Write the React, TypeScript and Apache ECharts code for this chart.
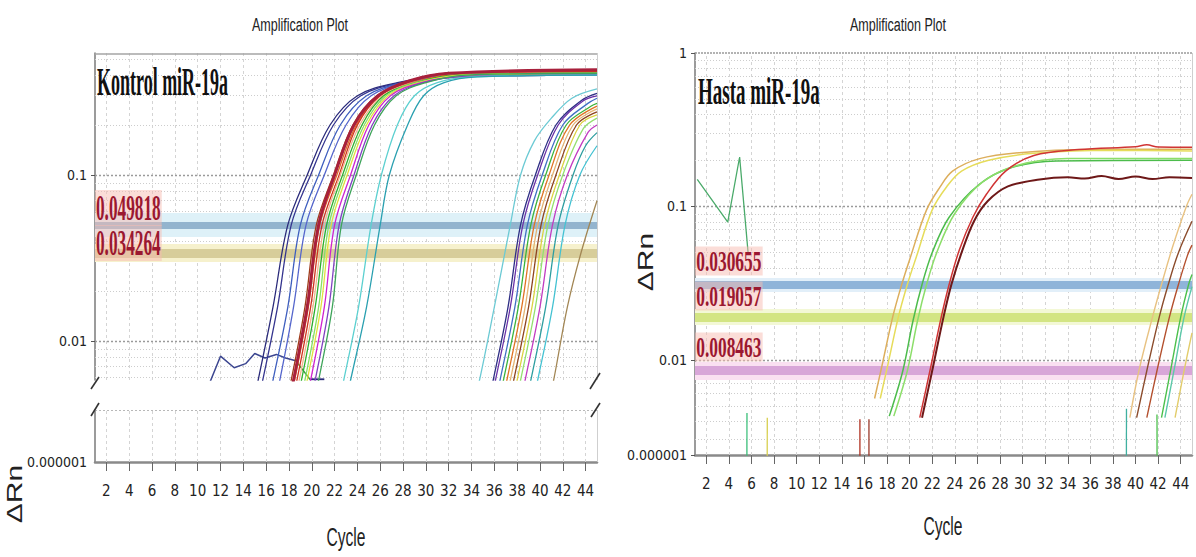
import React, { useEffect, useRef } from "react";
import * as echarts from "echarts";

// ---------------- data ----------------
const cycleTicks = [2, 4, 6, 8, 10, 12, 14, 16, 18, 20, 22, 24, 26, 28, 30, 32, 34, 36, 38, 40, 42, 44];
const cycleMin = 1;
const cycleMax = 45;

const kontrolTickValues = [0.01, 0.1];
const kontrolTickLabels = ["0.01", "0.1"];
const kontrolLowerLabel = "0.000001";
const kontrolMinorValues = [0.006, 0.007, 0.008, 0.009, 0.02, 0.03, 0.04, 0.05, 0.06, 0.07, 0.08, 0.09, 0.2, 0.3, 0.4, 0.5];
const kontrolVisibleMin = 0.00582;
const kontrolVisibleMax = 0.543;

const hastaTickValues = [0.01, 0.1, 1];
const hastaTickLabels = ["0.01", "0.1", "1"];
const hastaFloorLabel = "0.000001";
const hastaMinorValues = [0.003, 0.004, 0.005, 0.006, 0.007, 0.008, 0.009, 0.02, 0.03, 0.04, 0.05, 0.06, 0.07, 0.08, 0.09, 0.2, 0.3, 0.4, 0.5, 0.6, 0.7, 0.8, 0.9];
const hastaVisibleMin = 0.0024;
const hastaVisibleMax = 1;

const kontrolThresholds = [0.049818, 0.034264];
const kontrolThresholdLabels = ["0.049818", "0.034264"];
const hastaThresholds = [0.030655, 0.019057, 0.008463];
const hastaThresholdLabels = ["0.030655", "0.019057", "0.008463"];

// Kontrol miR-19a : early amplification group
const kE1 = [[14.6, 0.0035], [15.3, 0.0058], [16.6, 0.016], [17.9, 0.05], [19.6, 0.1], [21.6, 0.2], [24.0, 0.3], [27.5, 0.36], [31.5, 0.39], [45, 0.4]];
const kE2 = [[15.0, 0.0035], [15.7, 0.0058], [17.0, 0.016], [18.2, 0.05], [19.9, 0.1], [21.9, 0.2], [24.3, 0.3], [27.8, 0.36], [31.8, 0.39], [45, 0.4]];
const kE3 = [[15.9, 0.0035], [16.6, 0.0058], [17.9, 0.016], [19.0, 0.05], [20.6, 0.1], [22.5, 0.2], [24.8, 0.3], [28.0, 0.36], [32, 0.4], [45, 0.41]];
const kE4 = [[16.5, 0.0035], [17.2, 0.0058], [18.4, 0.016], [19.5, 0.05], [21.1, 0.1], [23.0, 0.2], [25.2, 0.3], [28.3, 0.36], [32, 0.39], [45, 0.4]];
const kE5 = [[17.5, 0.0035], [18.2, 0.0058], [19.4, 0.016], [20.4, 0.05], [21.9, 0.1], [23.6, 0.2], [25.7, 0.3], [28.6, 0.37], [32, 0.41], [45, 0.42]];
const kE6 = [[17.8, 0.0035], [18.5, 0.0058], [19.7, 0.016], [20.7, 0.05], [22.2, 0.1], [23.9, 0.2], [25.9, 0.3], [28.8, 0.36], [32, 0.4], [45, 0.41]];
const kE7 = [[18.0, 0.0035], [18.7, 0.0058], [19.9, 0.016], [20.9, 0.05], [22.4, 0.1], [24.0, 0.2], [26.0, 0.3], [28.9, 0.37], [32, 0.41], [45, 0.42]];
const kE8 = [[18.2, 0.0035], [18.9, 0.0058], [20.1, 0.016], [21.1, 0.05], [22.5, 0.1], [24.2, 0.2], [26.2, 0.3], [29.0, 0.36], [32.5, 0.39], [45, 0.4]];
const kE9 = [[18.4, 0.0035], [19.1, 0.0058], [20.3, 0.016], [21.3, 0.05], [22.7, 0.1], [24.4, 0.2], [26.3, 0.3], [29.1, 0.36], [32.5, 0.4], [45, 0.41]];
const kE10 = [[18.7, 0.0035], [19.4, 0.0058], [20.6, 0.016], [21.5, 0.05], [22.9, 0.1], [24.6, 0.2], [26.5, 0.3], [29.2, 0.36], [32.5, 0.39], [45, 0.4]];
const kE11 = [[18.9, 0.0035], [19.6, 0.0058], [20.8, 0.016], [21.7, 0.05], [23.1, 0.1], [24.8, 0.2], [26.7, 0.3], [29.4, 0.36], [33, 0.4], [45, 0.41]];
const kE12 = [[19.2, 0.0035], [19.9, 0.0058], [21.1, 0.016], [22.0, 0.05], [23.4, 0.1], [25.0, 0.2], [26.9, 0.3], [29.6, 0.36], [33, 0.39], [45, 0.4]];
const kE13 = [[19.6, 0.0035], [20.3, 0.0058], [21.5, 0.016], [22.4, 0.05], [23.7, 0.1], [25.3, 0.2], [27.2, 0.3], [29.8, 0.36], [33, 0.39], [45, 0.4]];
const kE14 = [[19.9, 0.0035], [20.6, 0.0058], [21.8, 0.016], [22.6, 0.05], [23.9, 0.1], [25.5, 0.2], [27.4, 0.3], [30.0, 0.36], [33.5, 0.4], [45, 0.41]];
const kE15 = [[22.1, 0.0035], [22.8, 0.0058], [24.1, 0.016], [25.2, 0.05], [26.1, 0.1], [27.5, 0.2], [29.0, 0.3], [31.0, 0.36], [34, 0.39], [45, 0.4]];
const kE16 = [[22.7, 0.0035], [23.4, 0.0058], [24.8, 0.016], [26.0, 0.05], [26.8, 0.1], [28.4, 0.2], [29.8, 0.3], [31.6, 0.36], [34.5, 0.39], [45, 0.4]];
const kE17 = [[17.7, 0.0035], [18.4, 0.0058], [19.6, 0.016], [20.6, 0.05], [22.0, 0.1], [23.7, 0.2], [25.8, 0.3], [28.6, 0.37], [32, 0.41], [45, 0.43]];
const kontrolEarly = [kE1, kE2, kE3, kE4, kE5, kE6, kE7, kE8, kE9, kE10, kE11, kE12, kE13, kE14, kE15, kE16, kE17];
const kontrolEarlyColors = ["#2b2b7b", "#35358f", "#3f5fbf", "#5566cc", "#a03c1c", "#e06a28", "#d0321e", "#f2b48e", "#2eae2e", "#86e064", "#e2e03e", "#d022d0", "#8242c2", "#3ea45a", "#5cd0d0", "#2aa0b0", "#a8203c"];

// Kontrol miR-19a : late amplification group
const kL1 = [[33.9, 0.0035], [34.7, 0.0058], [36.0, 0.016], [37.4, 0.05], [38.3, 0.1], [39.5, 0.16], [41.0, 0.22], [42.8, 0.29], [45, 0.33]];
const kL2 = [[35.2, 0.0035], [35.9, 0.0058], [37.2, 0.016], [38.3, 0.05], [39.6, 0.1], [41.4, 0.2], [43.6, 0.28], [45, 0.31]];
const kL3 = [[35.4, 0.0035], [36.1, 0.0058], [37.4, 0.016], [38.5, 0.05], [39.8, 0.1], [41.6, 0.2], [43.8, 0.28], [45, 0.3]];
const kL4 = [[35.8, 0.0035], [36.5, 0.0058], [37.8, 0.016], [38.9, 0.05], [40.2, 0.1], [42.0, 0.2], [44.2, 0.27], [45, 0.29]];
const kL5 = [[36.1, 0.0035], [36.8, 0.0058], [38.1, 0.016], [39.2, 0.05], [40.5, 0.1], [42.3, 0.2], [44.5, 0.26], [45, 0.27]];
const kL6 = [[36.4, 0.0035], [37.1, 0.0058], [38.4, 0.016], [39.5, 0.05], [40.8, 0.1], [42.6, 0.2], [45, 0.26]];
const kL7 = [[36.7, 0.0035], [37.4, 0.0058], [38.7, 0.016], [39.8, 0.05], [41.1, 0.1], [42.9, 0.2], [45, 0.25]];
const kL8 = [[37.0, 0.0035], [37.7, 0.0058], [39.0, 0.016], [40.1, 0.05], [41.4, 0.1], [43.2, 0.2], [45, 0.24]];
const kL9 = [[37.3, 0.0035], [38.0, 0.0058], [39.3, 0.016], [40.4, 0.05], [41.7, 0.1], [43.5, 0.2], [45, 0.23]];
const kL10 = [[37.6, 0.0035], [38.3, 0.0058], [39.6, 0.016], [40.7, 0.05], [42.0, 0.1], [43.8, 0.19], [45, 0.22]];
const kL11 = [[38.0, 0.0035], [38.7, 0.0058], [40.0, 0.016], [41.1, 0.05], [42.4, 0.1], [44.2, 0.18], [45, 0.2]];
const kL12 = [[38.5, 0.0035], [39.2, 0.0058], [40.5, 0.016], [41.6, 0.05], [42.9, 0.1], [44.0, 0.15], [45, 0.18]];
const kL13 = [[39.1, 0.0035], [39.8, 0.0058], [41.1, 0.016], [42.2, 0.05], [43.5, 0.1], [45, 0.15]];
const kL14 = [[40.5, 0.0035], [41.2, 0.0058], [42.4, 0.016], [43.6, 0.034], [45, 0.07]];
const kontrolLate = [kL1, kL2, kL3, kL4, kL5, kL6, kL7, kL8, kL9, kL10, kL11, kL12, kL13, kL14];
const kontrolLateColors = ["#6ccad4", "#2f2f85", "#6a32a8", "#4070c4", "#3cb43c", "#e07424", "#e4b474", "#8e4420", "#dcd242", "#94e070", "#c23cc2", "#2e9ea0", "#44c2d2", "#a28654"];

// Kontrol baseline noise
const kNoiseNavy = [[11.1, 0.0057], [12.0, 0.0081], [13.2, 0.0069], [14.2, 0.0073], [15.0, 0.0084], [15.9, 0.0079], [16.9, 0.0083], [17.7, 0.0079], [18.6, 0.0076]];
const kNoiseGreen = [[18.6, 0.0076], [19.9, 0.0058]];
const kNoiseFlat = [[19.9, 0.00588], [21.1, 0.00588]];

// Hasta miR-19a : early group
const hE1 = [[16.9, 0.0056], [17.6, 0.0095], [18.5, 0.019], [19.3, 0.031], [20.0, 0.045], [21.5, 0.095], [22.7, 0.134], [23.8, 0.17], [26.2, 0.205], [30, 0.225], [36, 0.235], [45, 0.236]];
const hE2 = [[17.4, 0.0056], [18.1, 0.0095], [19.0, 0.019], [19.8, 0.031], [20.6, 0.047], [22.0, 0.095], [23.3, 0.135], [24.6, 0.17], [27, 0.2], [31, 0.222], [38, 0.232], [45, 0.23]];
const hE3 = [[18.2, 0.0043], [19.4, 0.0085], [20.3, 0.018], [21.1, 0.031], [22.0, 0.05], [23.5, 0.085], [26.2, 0.14], [29.1, 0.18], [33, 0.198], [45, 0.2]];
const hE4 = [[18.6, 0.0043], [19.8, 0.0085], [20.7, 0.018], [21.5, 0.031], [22.4, 0.05], [24.0, 0.09], [26.5, 0.145], [29.5, 0.185], [34, 0.205], [45, 0.205]];
const hE5 = [[20.9, 0.0042], [21.8, 0.0085], [22.8, 0.019], [23.5, 0.031], [24.4, 0.052], [25.6, 0.085], [26.8, 0.12], [28.5, 0.17], [31, 0.215], [35, 0.235], [40, 0.245], [41, 0.252], [42, 0.244], [45, 0.243]];
const hE6 = [[21.1, 0.0042], [22.0, 0.0085], [23.0, 0.019], [23.7, 0.031], [24.6, 0.05], [25.7, 0.08], [26.9, 0.108], [28.7, 0.135], [31.5, 0.15], [34, 0.155], [35.5, 0.152], [37, 0.158], [38.5, 0.151], [40, 0.157], [41.5, 0.151], [43, 0.155], [45, 0.153]];
const hastaEarly = [hE1, hE2, hE3, hE4, hE5, hE6];
const hastaEarlyColors = ["#dcae5c", "#e6dc5a", "#4cbc4c", "#8cde6a", "#d03434", "#6e1818"];

// Hasta miR-19a : late group
const hL1 = [[39.5, 0.0042], [40.3, 0.0085], [41.5, 0.019], [42.3, 0.031], [43.3, 0.055], [44.5, 0.1], [45, 0.12]];
const hL2 = [[40.1, 0.0042], [41.0, 0.0085], [42.1, 0.019], [42.9, 0.031], [43.8, 0.05], [45, 0.08]];
const hL3 = [[41.0, 0.0042], [41.9, 0.0085], [43.0, 0.019], [43.8, 0.031], [44.6, 0.048], [45, 0.056]];
const hL4 = [[42.3, 0.0042], [43.1, 0.0085], [44.0, 0.019], [44.7, 0.031], [45, 0.036]];
const hL5 = [[42.6, 0.0042], [43.4, 0.0085], [44.3, 0.019], [45, 0.03]];
const hL6 = [[43.5, 0.0042], [44.3, 0.0085], [45, 0.015]];
const hastaLate = [hL1, hL2, hL3, hL4, hL5, hL6];
const hastaLateColors = ["#e8c282", "#8c4c2c", "#b4502e", "#4cc04c", "#5cc8a8", "#e2cc6a"];

// Hasta noise / spikes down to the 0.000001 floor
const hNoise = [[1.2, 0.15], [3.9, 0.079], [4.95, 0.21], [5.7, 0.05]];
const hSpikeA = [[5.6, 0.0045], [5.55, 0.000001]];
const hSpikeB = [[7.4, 0.0042], [7.3, 0.000001]];
const hSpikeC = [[15.6, 0.0041], [15.6, 0.000001]];
const hSpikeD = [[16.4, 0.0041], [16.4, 0.000001]];
const hSpikeE = [[39.2, 0.0048], [39.1, 0.000001]];
const hSpikeF = [[41.9, 0.0044], [42.0, 0.000001]];
const hastaSpikes = [hSpikeA, hSpikeB, hSpikeC, hSpikeD, hSpikeE, hSpikeF];
const hastaSpikeColors = ["#3cbf7a", "#d8d050", "#b03020", "#9a3a2a", "#40b0a0", "#4cc04c"];

// ---------------- helpers ----------------
const L = (v: number) => Math.log10(v);
const kYMin = L(kontrolVisibleMin);
const kYMax = L(kontrolVisibleMax);
const hYMin = L(hastaVisibleMin);
const hYMax = L(hastaVisibleMax);

const NARROW = '"Liberation Sans Narrow", "DejaVu Sans Condensed", "Liberation Sans", Arial, sans-serif';
const SANS = '"Liberation Sans", Arial, sans-serif';
const SERIF = '"Liberation Serif", "Times New Roman", serif';

function lookup(values: number[], labels: string[]) {
  return (v: number) => {
    for (let i = 0; i < values.length; i++) if (Math.abs(v - values[i]) < 1e-6) return labels[i];
    return "";
  };
}

function curve(pts: number[][], color: string, xi: number, yi: number, width = 1.3, smooth: number | boolean = 0.35) {
  return {
    type: "line",
    xAxisIndex: xi,
    yAxisIndex: yi,
    data: pts.map(([c, v]) => [c, L(v)]),
    showSymbol: false,
    symbol: "none",
    smooth,
    clip: true,
    silent: true,
    z: 5,
    lineStyle: { color, width },
    itemStyle: { color },
    emphasis: { disabled: true },
  };
}

function markSeries(xi: number, yi: number, lines: any[], z: number) {
  return {
    type: "line",
    xAxisIndex: xi,
    yAxisIndex: yi,
    data: [],
    silent: true,
    z,
    markLine: {
      silent: true,
      symbol: ["none", "none"],
      label: { show: false },
      emphasis: { disabled: true },
      animation: false,
      data: lines,
    },
  };
}

const vGrid = () => cycleTicks.map((c) => ({ xAxis: c, lineStyle: { color: "#d4d4d4", width: 1, type: [3, 3] } }));
const hMinor = (vals: number[]) => vals.map((v) => ({ yAxis: L(v), lineStyle: { color: "#cdcdcd", width: 1, type: [1, 2] } }));
const hMajor = (vals: number[]) => vals.map((v) => ({ yAxis: L(v), lineStyle: { color: "#9a9a9a", width: 1.4, type: [2, 2] } }));

function buildOption(): any {
  const xAxisBase = (gridIndex: number, show: boolean) => ({
    type: "value",
    gridIndex,
    min: cycleMin,
    max: cycleMax,
    show,
    splitLine: { show: false },
    axisLine: { show, onZero: false, lineStyle: { color: "#8a8a8a", width: 2.5 } },
    axisTick: { show, customValues: cycleTicks, length: 9, lineStyle: { color: "#666", width: 1 } },
    axisLabel: { show, customValues: cycleTicks, margin: 21, fontSize: 15, fontFamily: NARROW, color: "#222" },
  });

  const kontrolLines = [
    ...vGrid(),
    ...hMinor(kontrolMinorValues),
    ...hMajor(kontrolTickValues),
    { yAxis: kYMin, lineStyle: { color: "#b0b0b0", width: 1, type: [2, 2] } },
    { yAxis: kYMax, lineStyle: { color: "#a4a4a4", width: 1.5, type: "solid" } },
    { xAxis: cycleMax, lineStyle: { color: "#cfcfcf", width: 1, type: "solid" } },
  ];
  const kontrolLowerLines = [
    ...vGrid(),
    { yAxis: 1, lineStyle: { color: "#b8b8b8", width: 1.2, type: [2, 2] } },
    { xAxis: cycleMax, lineStyle: { color: "#cfcfcf", width: 1, type: "solid" } },
  ];
  const hastaLines = [
    ...vGrid(),
    ...hMinor(hastaMinorValues),
    ...hMajor([0.01, 0.1]),
    { yAxis: hYMax, lineStyle: { color: "#9a9a9a", width: 1.5, type: [2, 1] } },
    { xAxis: cycleMax, lineStyle: { color: "#cfcfcf", width: 1, type: "solid" } },
  ];

  const kontrolThresholdLines = [
    { yAxis: L(kontrolThresholds[0]), lineStyle: { color: "#def1f8", width: 24, type: "solid" } },
    { yAxis: L(kontrolThresholds[1]), lineStyle: { color: "#f6f1cd", width: 18, type: "solid" } },
    { yAxis: L(kontrolThresholds[0]), lineStyle: { color: "#93b4ce", width: 7, type: "solid" } },
    { yAxis: L(kontrolThresholds[1]), lineStyle: { color: "#d7cd9a", width: 9, type: "solid" } },
  ];
  const hastaThresholdLines = [
    { yAxis: L(hastaThresholds[0]), lineStyle: { color: "#e2eff9", width: 14, type: "solid" } },
    { yAxis: L(hastaThresholds[1]), lineStyle: { color: "#f3f8d6", width: 16, type: "solid" } },
    { yAxis: L(hastaThresholds[2]), lineStyle: { color: "#fae0f1", width: 18, type: "solid" } },
    { yAxis: L(hastaThresholds[0]), lineStyle: { color: "#8fb4d9", width: 8, type: "solid" } },
    { yAxis: L(hastaThresholds[1]), lineStyle: { color: "#d3e583", width: 9, type: "solid" } },
    { yAxis: L(hastaThresholds[2]), lineStyle: { color: "#d8a6d8", width: 9, type: "solid" } },
  ];

  const kLabelVals = kontrolTickValues.map(L);
  const hLabelVals = [hYMin, ...hastaTickValues.map(L)];
  const hLabelTexts = [hastaFloorLabel, ...hastaTickLabels];

  const yLabelStyle = { margin: 8, fontSize: 14, fontFamily: NARROW, color: "#222" };
  const yAxisLine = { show: true, onZero: false, lineStyle: { color: "#7a7a7a", width: 1.5 } };

  const series: any[] = [
    markSeries(0, 0, kontrolLines, 1),
    markSeries(1, 1, kontrolLowerLines, 1),
    markSeries(2, 2, hastaLines, 1),
    markSeries(0, 0, kontrolThresholdLines, 2),
    markSeries(2, 2, hastaThresholdLines, 2),
    curve(kNoiseNavy, "#3c4690", 0, 0, 1.5, false),
    curve(kNoiseGreen, "#3a9a3a", 0, 0, 1.3, false),
    curve(kNoiseFlat, "#2b2b7b", 0, 0, 1.8, false),
    ...kontrolLate.map((p, i) => curve(p, kontrolLateColors[i], 0, 0)),
    ...kontrolEarly.map((p, i) => curve(p, kontrolEarlyColors[i], 0, 0, i === kontrolEarly.length - 1 ? 3 : 1.3)),
    curve(hNoise, "#4aaa6a", 2, 2, 1.3, false),
    ...hastaSpikes.map((p, i) => curve(p, hastaSpikeColors[i], 2, 2, 1.3, false)),
    ...hastaLate.map((p, i) => curve(p, hastaLateColors[i], 2, 2, 1.4)),
    ...hastaEarly.map((p, i) => curve(p, hastaEarlyColors[i], 2, 2, i === 5 ? 2 : 1.5)),
  ];

  const txt = (text: string, x: number, y: number, font: string, extra: any = {}, styleExtra: any = {}) => ({
    type: "text",
    x,
    y,
    z: 100,
    silent: true,
    ...extra,
    style: { text, font, fill: "#222", align: "center", verticalAlign: "middle", ...styleExtra },
  });

  const thrLabel = (text: string, x: number, y: number, size: number, sx: number) =>
    txt(text, x, y, `bold ${size}px ${SERIF}`, { scaleX: sx }, {
      align: "left",
      fill: "#9b1830",
      backgroundColor: "rgba(247,188,178,0.5)",
      padding: [0, 2],
    });

  const breakLine = (x1: number, y1: number, x2: number, y2: number) => ({
    type: "line",
    z: 100,
    silent: true,
    shape: { x1, y1, x2, y2 },
    style: { stroke: "#333", lineWidth: 1.6 },
  });

  const graphic = [
    txt("Amplification Plot", 300, 24, `19px ${SANS}`, { scaleX: 0.66 }),
    txt("Amplification Plot", 898, 24, `19px ${SANS}`, { scaleX: 0.66 }),
    txt("Kontrol miR-19a", 97, 81, `bold 40px ${SERIF}`, { scaleX: 0.45 }, { align: "left", fill: "#111" }),
    txt("Hasta miR-19a", 698, 91, `bold 38px ${SERIF}`, { scaleX: 0.5 }, { align: "left", fill: "#111" }),
    thrLabel(kontrolThresholdLabels[0], 95, 208, 36, 0.48),
    thrLabel(kontrolThresholdLabels[1], 95, 243, 36, 0.48),
    thrLabel(hastaThresholdLabels[0], 695, 261, 29, 0.6),
    thrLabel(hastaThresholdLabels[1], 695, 296, 29, 0.6),
    thrLabel(hastaThresholdLabels[2], 695, 347, 29, 0.6),
    txt("Cycle", 346, 538, `26px ${SANS}`, { scaleX: 0.6 }),
    txt("Cycle", 943, 527, `26px ${SANS}`, { scaleX: 0.6 }),
    txt("ΔRn", 15, 494, `30px ${SANS}`, { rotation: Math.PI / 2, scaleY: 0.72 }),
    txt("ΔRn", 646, 262, `30px ${SANS}`, { rotation: Math.PI / 2, scaleY: 0.72 }),
    breakLine(91, 389, 99, 377),
    breakLine(91, 416, 99, 403),
    breakLine(590, 389, 600, 373),
    breakLine(591, 417, 600, 403),
  ];

  return {
    animation: false,
    backgroundColor: "#ffffff",
    textStyle: { fontFamily: SANS },
    grid: [
      { left: 95, top: 53, width: 502, height: 327, containLabel: false, outerBoundsMode: "none" },
      { left: 95, top: 410, width: 502, height: 52, containLabel: false, outerBoundsMode: "none" },
      { left: 695, top: 53, width: 497, height: 402, containLabel: false, outerBoundsMode: "none" },
    ],
    xAxis: [xAxisBase(0, false), xAxisBase(1, true), xAxisBase(2, true)],
    yAxis: [
      {
        type: "value",
        gridIndex: 0,
        min: kYMin,
        max: kYMax,
        splitLine: { show: false },
        axisLine: yAxisLine,
        axisTick: { show: true, customValues: kLabelVals, length: 4, lineStyle: { color: "#555" } },
        axisLabel: { ...yLabelStyle, customValues: kLabelVals, formatter: lookup(kLabelVals, kontrolTickLabels) },
      },
      {
        type: "value",
        gridIndex: 1,
        min: 0,
        max: 1,
        splitLine: { show: false },
        axisLine: yAxisLine,
        axisTick: { show: false },
        axisLabel: { ...yLabelStyle, customValues: [0], formatter: () => kontrolLowerLabel },
      },
      {
        type: "value",
        gridIndex: 2,
        min: hYMin,
        max: hYMax,
        splitLine: { show: false },
        axisLine: yAxisLine,
        axisTick: { show: true, customValues: hLabelVals, length: 4, lineStyle: { color: "#555" } },
        axisLabel: { ...yLabelStyle, customValues: hLabelVals, formatter: lookup(hLabelVals, hLabelTexts) },
      },
    ],
    series,
    graphic,
  };
}

export default function App() {
  const ref = useRef<HTMLDivElement>(null);
  useEffect(() => {
    if (!ref.current) return;
    const chart = echarts.init(ref.current, null, { renderer: "svg" });
    chart.setOption(buildOption());
    return () => chart.dispose();
  }, []);
  return (
    <div
      ref={ref}
      style={{ position: "fixed", left: 0, top: 0, width: 1196, height: 557, background: "#fff" }}
    />
  );
}
